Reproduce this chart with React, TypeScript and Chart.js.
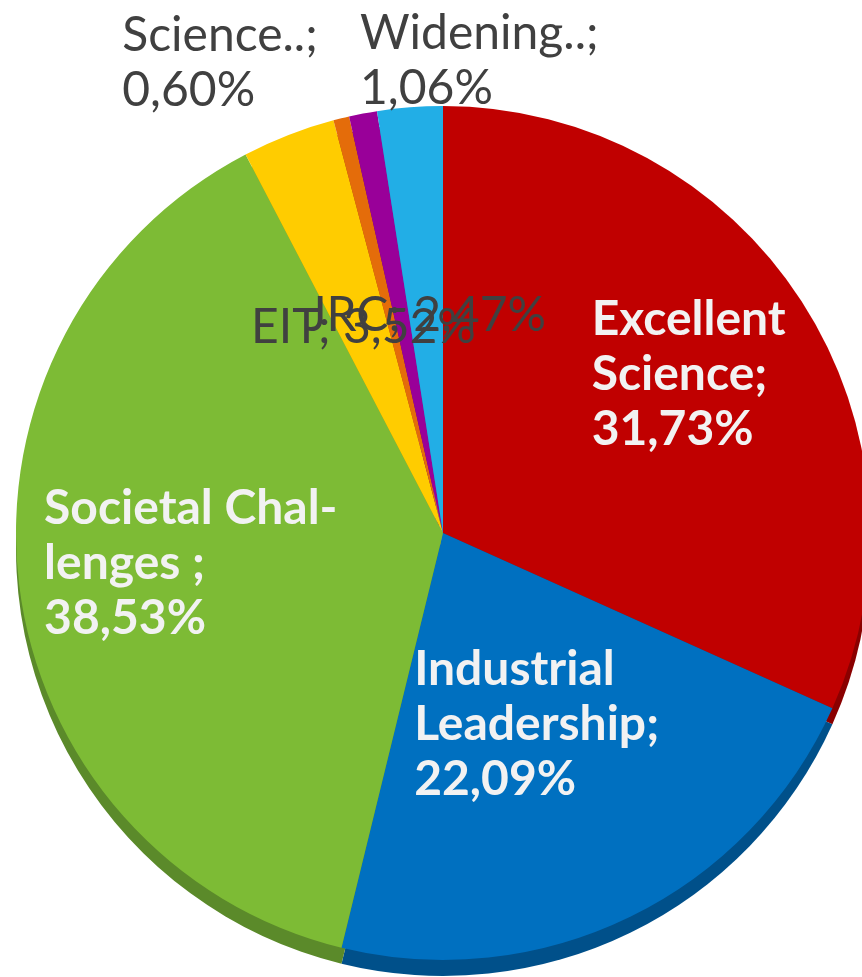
import React, { useEffect, useRef } from "react";
import { Chart, registerables } from "chart.js";

Chart.register(...registerables);

const categories = [
  "Excellent Science",
  "Industrial Leadership",
  "Societal Challenges",
  "EIT",
  "Science..",
  "Widening..",
  "JRC",
];
const shares = [31.73, 22.09, 38.53, 3.52, 0.6, 1.06, 2.47];
const nameLines = [
  ["Excellent", "Science;"],
  ["Industrial", "Leadership;"],
  ["Societal Chal-", "lenges ;"],
  ["EIT;"],
  ["Science..;"],
  ["Widening..;"],
  ["JRC;"],
];
const topColors = ["#C00000", "#0070C0", "#7DBB35", "#FFCC00", "#E46C0A", "#990099", "#22AEE6"];
const sideColors = ["#8A0000", "#00508A", "#5B8A2A", "#C09A00", "#A84F07", "#6E006E", "#1A80A8"];

// label placement: kind "in" => along mid angle at frac*radius; "out" => offset from outer arc point
const labelPlacement: any[] = [
  { kind: "in", frac: 0.685, white: true, block: true },
  { kind: "in", frac: 0.5, white: true, block: true },
  { kind: "in", frac: 0.595, white: true, block: true },
  { kind: "in", frac: 0.515, white: false, block: false },
  { kind: "out", dx: -219, dy: -83, white: false, block: true },
  { kind: "out", dx: -3, dy: -80, white: false, block: true },
  { kind: "in", frac: 0.51, white: false, block: false },
];

const fmt = (v: number) => v.toFixed(2).replace(".", ",") + "%";

const FONT = "Lato";
const FONT_SIZE = 48;
const LINE_H = 55;
const DEPTH = 16;

const sidePlugin = {
  id: "side3d",
  beforeDatasetsDraw(chart: any) {
    const ctx = chart.ctx;
    const meta = chart.getDatasetMeta(0);
    meta.data.forEach((arc: any, i: number) => {
      const { x, y, startAngle, endAngle, outerRadius } = arc.getProps(
        ["x", "y", "startAngle", "endAngle", "outerRadius"],
        true
      );
      ctx.save();
      ctx.translate(0, DEPTH);
      ctx.beginPath();
      ctx.moveTo(x, y);
      ctx.arc(x, y, outerRadius, startAngle, endAngle);
      ctx.closePath();
      ctx.fillStyle = sideColors[i];
      ctx.fill();
      ctx.restore();
    });
  },
};

const labelPlugin = {
  id: "pieLabels",
  afterDatasetsDraw(chart: any) {
    const ctx = chart.ctx;
    const meta = chart.getDatasetMeta(0);
    meta.data.forEach((arc: any, i: number) => {
      const { x, y, startAngle, endAngle, outerRadius } = arc.getProps(
        ["x", "y", "startAngle", "endAngle", "outerRadius"],
        true
      );
      const p = labelPlacement[i];
      const mid = (startAngle + endAngle) / 2;
      const lines =
        nameLines[i].length === 1 && !p.block
          ? [nameLines[i][0] + " " + fmt(shares[i])]
          : [...nameLines[i], fmt(shares[i])];
      ctx.save();
      ctx.font = `${p.white ? "bold " : ""}${FONT_SIZE}px ${FONT}`;
      ctx.fillStyle = p.white ? "#F2F2F2" : "#404040";
      ctx.textBaseline = "middle";
      if (p.kind === "in") {
        const cx = x + Math.cos(mid) * outerRadius * p.frac;
        const cy = y + Math.sin(mid) * outerRadius * p.frac;
        const maxW = Math.max(...lines.map((l) => ctx.measureText(l).width));
        const top = cy - ((lines.length - 1) * LINE_H) / 2;
        lines.forEach((l, k) => {
          if (p.block) {
            ctx.textAlign = "left";
            ctx.fillText(l, cx - maxW / 2, top + k * LINE_H);
          } else {
            ctx.textAlign = "center";
            ctx.fillText(l, cx, top + k * LINE_H);
          }
        });
      } else {
        const ox = x + Math.cos(mid) * outerRadius;
        const oy = y + Math.sin(mid) * outerRadius;
        ctx.textAlign = "left";
        lines.forEach((l, k) => {
          ctx.fillText(l, ox + p.dx, oy + p.dy + k * LINE_H);
        });
      }
      ctx.restore();
    });
  },
};

export default function App() {
  const ref = useRef<HTMLCanvasElement | null>(null);
  useEffect(() => {
    document.body.style.margin = "0";
    const chart = new Chart(ref.current as HTMLCanvasElement, {
      type: "pie",
      data: {
        labels: categories,
        datasets: [
          {
            data: shares,
            backgroundColor: topColors,
            borderWidth: 0,
            hoverOffset: 0,
            offset: 0,
          },
        ],
      },
      options: {
        animation: false,
        responsive: false,
        layout: { padding: { left: 16, right: 10, top: 106, bottom: 17 } },
        plugins: {
          legend: { display: false },
          tooltip: { enabled: false },
          title: { display: false },
        },
      },
      plugins: [sidePlugin, labelPlugin],
    });
    return () => chart.destroy();
  }, []);
  return (
    <div style={{ position: "absolute", left: 0, top: 0, width: 862, height: 977, overflow: "hidden", background: "#fff" }}>
      <canvas ref={ref} width={880} height={977} style={{ width: 880, height: 977, display: "block" }} />
    </div>
  );
}
